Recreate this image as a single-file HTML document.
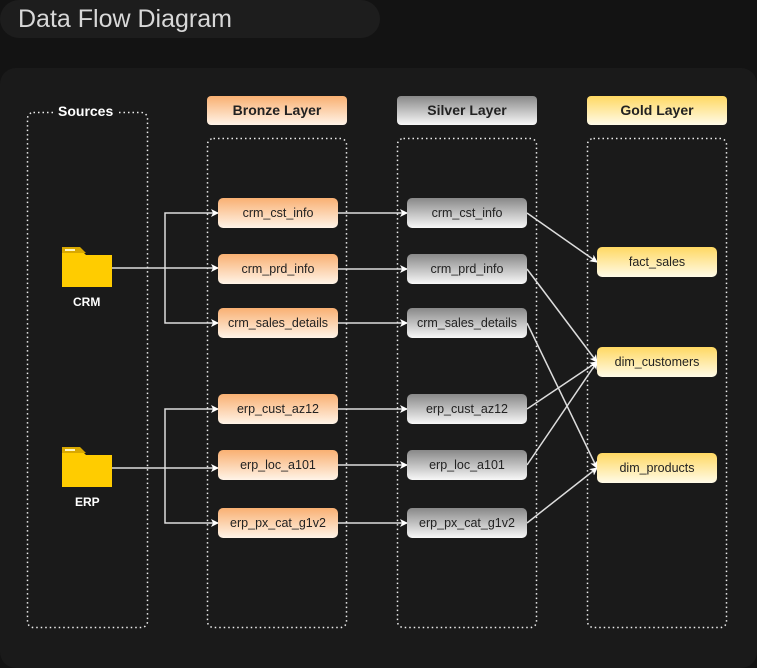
<!DOCTYPE html>
<html><head><style>
body{margin:0;width:757px;height:656px;background:#131313;font-family:"Liberation Sans",sans-serif;position:relative;overflow:hidden}
.t{position:absolute;left:0;top:0;width:380px;height:38px;background:#1d1d1d;border-radius:19px}
.t span{position:absolute;left:18px;top:5px;font-size:25px;color:#d8d8d8}
.panel{position:absolute;left:0;top:68px;width:757px;height:600px;background:#1a1a1a;border-radius:16px}
.h{position:absolute;width:140px;height:29px;border-radius:4px;font-weight:bold;font-size:14px;color:#222;text-align:center;line-height:29px}
.n{position:absolute;width:120px;height:30px;border-radius:5px;font-size:12.5px;color:#222;text-align:center;line-height:30px}
.b{background:linear-gradient(#f9b072,#fff4e8)}
.s{background:linear-gradient(#888,#f8f8f8)}
.g{background:linear-gradient(#ffd862,#fffbe8)}
.lbl{position:absolute;color:#fff;font-weight:bold;font-size:12px}
</style></head><body>
<div class="t"><span>Data Flow Diagram</span></div>
<div class="panel"></div>
<div class="h b" style="left:207px;top:96px">Bronze Layer</div>
<div class="h s" style="left:397px;top:96px">Silver Layer</div>
<div class="h g" style="left:587px;top:96px">Gold Layer</div>
<svg width="757" height="656" style="position:absolute;left:0;top:0">
<defs><marker id="a" markerWidth="8" markerHeight="8" refX="7" refY="4" orient="auto" markerUnits="userSpaceOnUse"><path d="M0,0L8,4L0,8L2,4z" fill="#fff"/></marker></defs>
<g stroke="#eee" stroke-width="1.5" fill="none" stroke-dasharray="1.5 3">
<rect x="27.5" y="112.5" width="120" height="515" rx="6"/>
<rect x="207.5" y="138.5" width="139" height="489" rx="6"/>
<rect x="397.5" y="138.5" width="139" height="489" rx="6"/>
<rect x="587.5" y="138.5" width="139" height="489" rx="6"/>
</g>
<g stroke="#ddd" stroke-width="1.5" fill="none">
<path d="M112 268H218" marker-end="url(#a)"/>
<path d="M165 268V213H218" marker-end="url(#a)"/>
<path d="M165 268V323H218" marker-end="url(#a)"/>
<path d="M112 468H218" marker-end="url(#a)"/>
<path d="M165 468V409H218" marker-end="url(#a)"/>
<path d="M165 468V523H218" marker-end="url(#a)"/>
<path d="M338 213H407" marker-end="url(#a)"/>
<path d="M338 269H407" marker-end="url(#a)"/>
<path d="M338 323H407" marker-end="url(#a)"/>
<path d="M338 409H407" marker-end="url(#a)"/>
<path d="M338 465H407" marker-end="url(#a)"/>
<path d="M338 523H407" marker-end="url(#a)"/>
<path d="M527 213L597 262" marker-end="url(#a)"/>
<path d="M527 269L597 362" marker-end="url(#a)"/>
<path d="M527 323L597 468" marker-end="url(#a)"/>
<path d="M527 409L597 362" marker-end="url(#a)"/>
<path d="M527 465L597 362" marker-end="url(#a)"/>
<path d="M527 523L597 468" marker-end="url(#a)"/>
</g>
<g>
<path d="M62 251h20l4 4h26v32H62z" fill="#ffcc00"/><path d="M62 247h18l6 6H62z" fill="#d9a800"/><rect x="65" y="249" width="10" height="2" fill="#fff5c0"/>
<path d="M62 451h20l4 4h26v32H62z" fill="#ffcc00"/><path d="M62 447h18l6 6H62z" fill="#d9a800"/><rect x="65" y="449" width="10" height="2" fill="#fff5c0"/>
</g>
</svg>
<div class="lbl" style="left:55px;top:103px;font-size:14px;background:#1a1a1a;padding:0 3px">Sources</div>
<div class="lbl" style="left:73px;top:295px">CRM</div>
<div class="lbl" style="left:75px;top:495px">ERP</div>
<div class="n b" style="left:218px;top:198px">crm_cst_info</div>
<div class="n b" style="left:218px;top:254px">crm_prd_info</div>
<div class="n b" style="left:218px;top:308px">crm_sales_details</div>
<div class="n b" style="left:218px;top:394px">erp_cust_az12</div>
<div class="n b" style="left:218px;top:450px">erp_loc_a101</div>
<div class="n b" style="left:218px;top:508px">erp_px_cat_g1v2</div>
<div class="n s" style="left:407px;top:198px">crm_cst_info</div>
<div class="n s" style="left:407px;top:254px">crm_prd_info</div>
<div class="n s" style="left:407px;top:308px">crm_sales_details</div>
<div class="n s" style="left:407px;top:394px">erp_cust_az12</div>
<div class="n s" style="left:407px;top:450px">erp_loc_a101</div>
<div class="n s" style="left:407px;top:508px">erp_px_cat_g1v2</div>
<div class="n g" style="left:597px;top:247px">fact_sales</div>
<div class="n g" style="left:597px;top:347px">dim_customers</div>
<div class="n g" style="left:597px;top:453px">dim_products</div>
</body></html>
